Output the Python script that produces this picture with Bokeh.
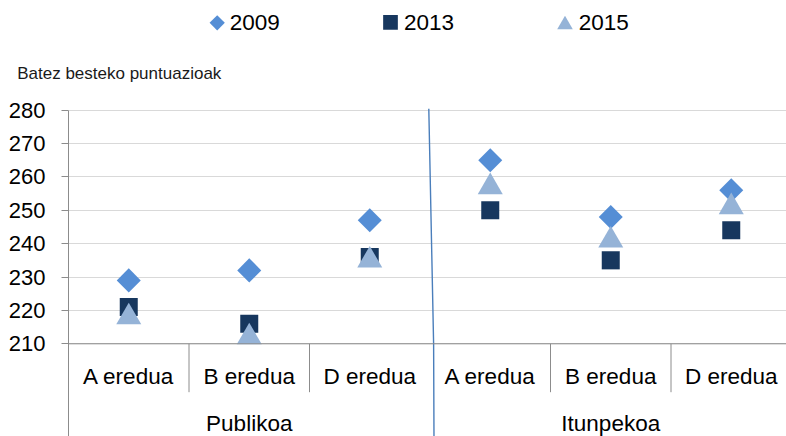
import math
from bokeh.plotting import figure
from bokeh.layouts import column
from bokeh.models import Range1d, FixedTicker, Span, ColumnDataSource
from bokeh.core.properties import value
from bokeh.embed import file_html
from bokeh.resources import INLINE

# ---------------- data ----------------
groups = ["Publikoa", "Itunpekoa"]
models = ["A eredua", "B eredua", "D eredua"]
years = ["2009", "2013", "2015"]
v2009 = [229, 232, 247, 265, 248, 256]
v2013 = [221, 216, 236, 250, 235, 244]
v2015 = [218, 212, 235, 257, 241, 251]
y_ticks = [210, 220, 230, 240, 250, 260, 270, 280]
y_title = "Batez besteko puntuazioak"

# ---------------- styles / layout ----------------
FONT = "Liberation Sans"
C2009, C2013, C2015 = "#558ED5", "#17375E", "#95B3D7"
AXIS_GRAY = "#8C8C8C"
GRID_GRAY = "#D9D9D9"
SEP_BLUE = "#4A7EBB"

W = 786
TOP_H = 98           # header strip (legend + axis title)
MAIN_H = 436 - TOP_H
LEFT = 68
BORDER_TOP = 10
XU = 120.5           # px per category slot
PX_PER_UNIT = 3.337  # px per score unit
TOP_TICK_SCREEN = 109.7

frame_top_screen = TOP_H + BORDER_TOP
Y1 = y_ticks[-1] + (TOP_TICK_SCREEN - frame_top_screen) / PX_PER_UNIT
Y0 = Y1 - (MAIN_H - BORDER_TOP) / PX_PER_UNIT
n_slots = len(groups) * len(models)
X1 = (W - LEFT) / XU


def fy(sy):
    """screen y (page px) -> score units in main plot"""
    return Y1 - (sy - frame_top_screen) / PX_PER_UNIT


# ---------------- header: legend + axis title ----------------
top = figure(width=W, height=TOP_H, output_backend="svg", toolbar_location=None,
             x_range=Range1d(0, W), y_range=Range1d(TOP_H, 0),
             min_border=0, min_border_left=0, min_border_right=0,
             min_border_top=0, min_border_bottom=0,
             x_axis_location=None, y_axis_location=None, title=None)
top.frame_align = False
top.outline_line_color = None
top.grid.visible = False
top.background_fill_color = "white"
top.border_fill_color = "white"

leg_x = [216.7, 390.0, 564.5]
leg_y = [22.3, 21.8, 24.3]
leg_marker = ["square", "square", "triangle"]
leg_angle = [math.pi / 4, 0, 0]
leg_size = [10.8, 14.7, 15.6]
leg_color = [C2009, C2013, C2015]
leg_text_x = [229.3, 403.5, 578.3]
for i, yr in enumerate(years):
    top.scatter(x=[leg_x[i]], y=[leg_y[i]], marker=leg_marker[i], angle=leg_angle[i],
                size=leg_size[i], fill_color=leg_color[i], line_color=None)
top.text(x=leg_text_x, y=[21.7] * len(years), text=years, text_font=value(FONT),
         text_font_size="22.5px", text_align="left", text_baseline="middle",
         text_color="#000000")
top.text(x=[16.7], y=[72.5], text=[y_title], text_font=value(FONT),
         text_font_size="17px", text_align="left", text_baseline="middle",
         text_color="#1A1A1A")

# ---------------- main plot ----------------
p = figure(width=W, height=MAIN_H, output_backend="svg", toolbar_location=None,
           x_range=Range1d(0, X1), y_range=Range1d(Y0, Y1),
           min_border_left=LEFT, min_border_right=0, min_border_top=BORDER_TOP,
           min_border_bottom=0, x_axis_location=None, title=None)
p.frame_align = False
p.outline_line_color = None
p.background_fill_color = "white"
p.border_fill_color = "white"
p.xgrid.grid_line_color = None

ax = p.yaxis[0]
ax.ticker = FixedTicker(ticks=y_ticks)
ax.bounds = (Y0, y_ticks[-1])
ax.axis_line_color = AXIS_GRAY
ax.major_tick_line_color = AXIS_GRAY
ax.major_tick_out = 7
ax.major_tick_in = 0
ax.minor_tick_line_color = None
ax.major_label_text_font = FONT
ax.major_label_text_font_size = "22px"
ax.major_label_text_color = "#000000"
ax.major_label_standoff = 16

p.ygrid.ticker = FixedTicker(ticks=y_ticks)
p.ygrid.grid_line_color = GRID_GRAY
p.ygrid.grid_line_width = 1

# category axis line at the base value
p.add_layout(Span(location=y_ticks[0], dimension="width",
                  line_color=AXIS_GRAY, line_width=1))

xs = [i + 0.5 for i in range(n_slots)]
src = ColumnDataSource(dict(
    x=xs,
    model=[m for g in groups for m in models],
    v2009=v2009, v2013=v2013, v2015=v2015,
))

# short separators between categories inside a group
short_seps = [gi * len(models) + k for gi in range(len(groups)) for k in range(1, len(models))]
p.segment(x0=short_seps, x1=short_seps, y0=[y_ticks[0]] * len(short_seps),
          y1=[fy(391.7)] * len(short_seps), line_color=AXIS_GRAY, line_width=1)
# group border line (blue, hand drawn in the original)
gb = len(models)
p.line(x=[gb - 0.01, gb + 0.03, gb + 0.033], y=[Y1, y_ticks[0], Y0],
       line_color=SEP_BLUE, line_width=1.4)

# data markers
p.scatter("x", "v2009", source=src, marker="square", angle=math.pi / 4, size=17,
          fill_color=C2009, line_color=None)
p.scatter("x", "v2013", source=src, marker="square", size=18,
          fill_color=C2013, line_color=None)
p.scatter("x", "v2015", source=src, marker="triangle", size=25,
          fill_color=C2015, line_color=None)

# category labels
p.text(x="x", y=fy(375.8), text="model", source=src, text_font=value(FONT),
       text_font_size="22.5px", text_align="center", text_baseline="middle",
       text_color="#000000")
gcenters = [len(models) * (gi + 0.5) for gi in range(len(groups))]
p.text(x=gcenters, y=[fy(423.3)] * len(groups), text=groups, text_font=value(FONT),
       text_font_size="22.5px", text_align="center", text_baseline="middle",
       text_color="#000000")

layout = column(top, p, spacing=0)
open("out.html", "w").write(file_html(layout, INLINE))
